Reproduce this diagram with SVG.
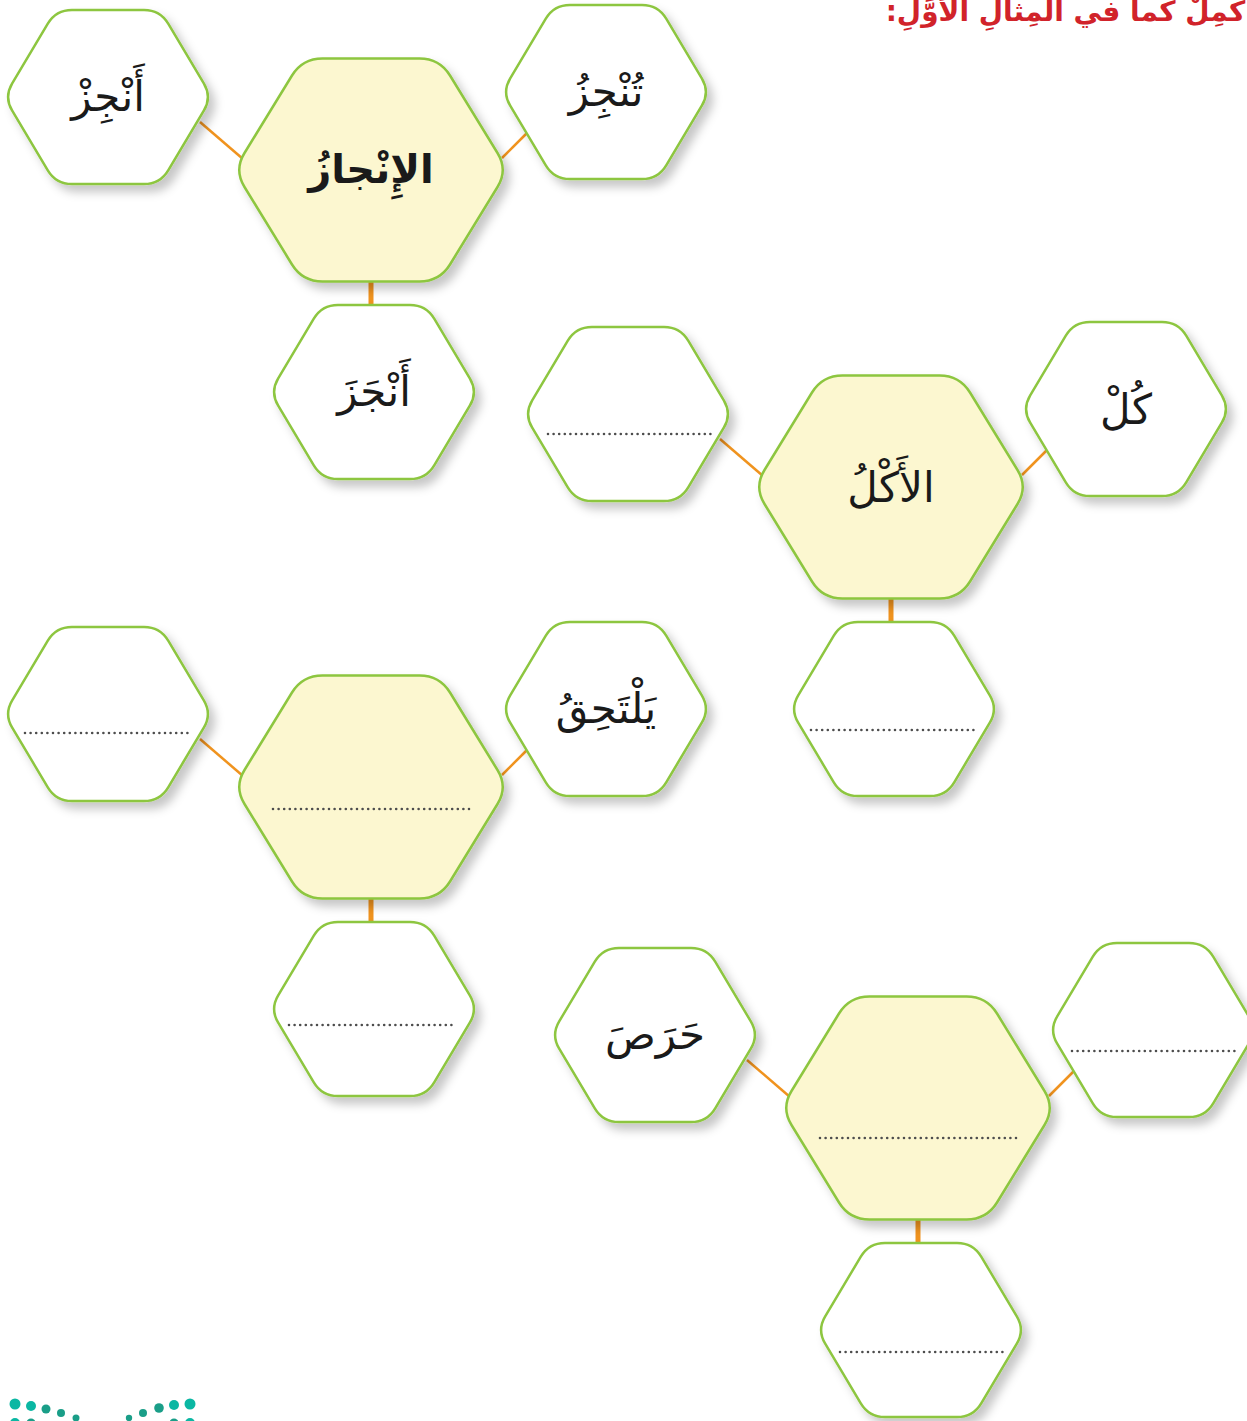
<svg xmlns="http://www.w3.org/2000/svg" xmlns:xlink="http://www.w3.org/1999/xlink" width="1247" height="1421" viewBox="0 0 1247 1421">
<style>
.hs{fill:#ffffff;stroke:#8dc63f;stroke-width:2.5;filter:url(#sh)}
.hb{fill:#fcf7d0;stroke:#8dc63f;stroke-width:2.5;filter:url(#sh)}
.con{stroke:#f0931e;stroke-width:2.5;fill:none}
.conv{stroke:#f0931e;stroke-width:5;fill:none}
.dots{stroke:#4d4d4d;stroke-width:2.6;stroke-linecap:round;stroke-dasharray:0 5.6;fill:none}
.w{font-family:"DejaVu Sans",sans-serif;font-size:42px;fill:#1a1a1a;text-anchor:middle}
.wb{font-family:"DejaVu Sans",sans-serif;font-size:40px;font-weight:bold;fill:#1a1a1a;text-anchor:middle}
.title{font-family:"DejaVu Sans",sans-serif;font-size:28px;font-weight:bold;fill:#d1232a;direction:rtl;text-anchor:start}
.lg1{fill:#0bb7a3}
.lg2{fill:#1a9e88}
</style>
<defs>
<filter id="sh" x="-20%" y="-20%" width="150%" height="150%">
<feDropShadow dx="6" dy="7" stdDeviation="5" flood-color="#000000" flood-opacity="0.22"/>
</filter>
<path id="hexS" d="M95.8,13.7 L60.2,73.3 Q52,87 36,87 L-36,87 Q-52,87 -60.2,73.3 L-95.8,13.7 Q-104,0 -95.8,-13.7 L-60.2,-73.3 Q-52,-87 -36,-87 L36,-87 Q52,-87 60.2,-73.3 L95.8,-13.7 Q104,0 95.8,13.7 Z"/>
<path id="hexB" d="M126.5,17 L79,94.5 Q68.5,111.5 48.5,111.5 L-48.5,111.5 Q-68.5,111.5 -79,94.5 L-126.5,17 Q-137,0 -126.5,-17 L-79,-94.5 Q-68.5,-111.5 -48.5,-111.5 L48.5,-111.5 Q68.5,-111.5 79,-94.5 L126.5,-17 Q137,0 126.5,17 Z"/>
</defs>

<text class="title" x="1255" y="21" direction="rtl">أَكْمِلْ كَما في المِثالِ الأَوَّلِ:</text>

<g id="connectors">
<line class="con" x1="200" y1="122" x2="243" y2="159"/>
<line class="con" x1="502" y1="158" x2="527" y2="133"/>
<line class="conv" x1="371" y1="280" x2="371" y2="307"/>
<line class="con" x1="720" y1="439" x2="763" y2="476"/>
<line class="con" x1="1022" y1="475" x2="1047" y2="450"/>
<line class="conv" x1="891" y1="597" x2="891" y2="624"/>
<line class="con" x1="200" y1="739" x2="243" y2="776"/>
<line class="con" x1="502" y1="775" x2="527" y2="750"/>
<line class="conv" x1="371" y1="897" x2="371" y2="924"/>
<line class="con" x1="747" y1="1060" x2="790" y2="1097"/>
<line class="con" x1="1049" y1="1096" x2="1074" y2="1071"/>
<line class="conv" x1="918" y1="1218" x2="918" y2="1245"/>
</g>

<g id="n1-center" transform="translate(371,170)">
<use xlink:href="#hexB" class="hb"/>
<text class="wb" x="0" y="13">الإِنْجازُ</text>
</g>
<g id="n1-left" transform="translate(108,97)">
<use xlink:href="#hexS" class="hs"/>
<text class="w" x="0" y="14">أَنْجِزْ</text>
</g>
<g id="n1-right" transform="translate(606,92)">
<use xlink:href="#hexS" class="hs"/>
<text class="w" x="0" y="14">تُنْجِزُ</text>
</g>
<g id="n1-bottom" transform="translate(374,392)">
<use xlink:href="#hexS" class="hs"/>
<text class="w" x="0" y="14">أَنْجَزَ</text>
</g>

<g id="n2-center" transform="translate(891,487)">
<use xlink:href="#hexB" class="hb"/>
<text class="w" x="0" y="15">الأَكْلُ</text>
</g>
<g id="n2-left" transform="translate(628,414)">
<use xlink:href="#hexS" class="hs"/>
<line class="dots" x1="-80" y1="20" x2="85" y2="20"/>
</g>
<g id="n2-right" transform="translate(1126,409)">
<use xlink:href="#hexS" class="hs"/>
<text class="w" x="0" y="15">كُلْ</text>
</g>
<g id="n2-bottom" transform="translate(894,709)">
<use xlink:href="#hexS" class="hs"/>
<line class="dots" x1="-83" y1="21" x2="82" y2="21"/>
</g>

<g id="n3-center" transform="translate(371,787)">
<use xlink:href="#hexB" class="hb"/>
<line class="dots" x1="-98" y1="22" x2="99" y2="22"/>
</g>
<g id="n3-left" transform="translate(108,714)">
<use xlink:href="#hexS" class="hs"/>
<line class="dots" x1="-83" y1="19" x2="82" y2="19"/>
</g>
<g id="n3-right" transform="translate(606,709)">
<use xlink:href="#hexS" class="hs"/>
<text class="w" x="0" y="14">يَلْتَحِقُ</text>
</g>
<g id="n3-bottom" transform="translate(374,1009)">
<use xlink:href="#hexS" class="hs"/>
<line class="dots" x1="-85" y1="16" x2="81" y2="16"/>
</g>

<g id="n4-center" transform="translate(918,1108)">
<use xlink:href="#hexB" class="hb"/>
<line class="dots" x1="-98" y1="30" x2="99" y2="30"/>
</g>
<g id="n4-left" transform="translate(655,1035)">
<use xlink:href="#hexS" class="hs"/>
<text class="w" x="0" y="14">حَرَصَ</text>
</g>
<g id="n4-right" transform="translate(1153,1030)">
<use xlink:href="#hexS" class="hs"/>
<line class="dots" x1="-81" y1="21" x2="85" y2="21"/>
</g>
<g id="n4-bottom" transform="translate(921,1330)">
<use xlink:href="#hexS" class="hs"/>
<line class="dots" x1="-81" y1="22" x2="84" y2="22"/>
</g>

<g id="logo">
<circle class="lg1" cx="15" cy="1404" r="5.5"/>
<circle class="lg1" cx="31" cy="1406" r="5"/>
<circle class="lg2" cx="46" cy="1409" r="4.5"/>
<circle class="lg2" cx="61" cy="1413" r="4"/>
<circle class="lg2" cx="76" cy="1418" r="3.5"/>
<circle class="lg2" cx="129" cy="1418" r="3.2"/>
<circle class="lg2" cx="143" cy="1413" r="4"/>
<circle class="lg2" cx="159" cy="1408" r="4.8"/>
<circle class="lg1" cx="174" cy="1405" r="5"/>
<circle class="lg1" cx="190" cy="1404" r="5.5"/>
<circle class="lg1" cx="15" cy="1423" r="5"/>
<circle class="lg2" cx="31" cy="1423" r="4.5"/>
<circle class="lg2" cx="174" cy="1423" r="4.5"/>
<circle class="lg1" cx="190" cy="1423" r="5"/>
</g>
</svg>
